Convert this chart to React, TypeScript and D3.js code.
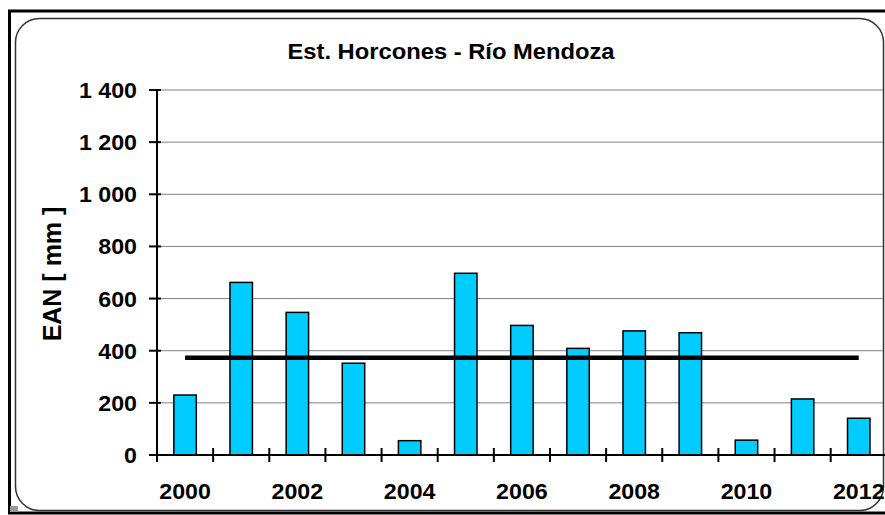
import * as d3 from "d3"

const years = ["2000", "2001", "2002", "2003", "2004", "2005", "2006", "2007", "2008", "2009", "2010", "2011", "2012"]
const ean = [230, 662, 547, 352, 55, 697, 497, 409, 476, 469, 57, 215, 141]
const meanEan = 373
const yTicks = [0, 200, 400, 600, 800, 1000, 1200, 1400]
const xLabelYears = ["2000", "2002", "2004", "2006", "2008", "2010", "2012"]

const W = 885
const H = 515
const FONT = "'Liberation Sans', Arial, sans-serif"

// format with a space as thousands separator
const fmt = (v: number) => d3.format(",")(v).replace(/,/g, " ")

export default function App() {
  const left = 157
  const step = 56.14
  const x = d3
    .scaleBand<string>()
    .domain(years)
    .range([left, left + step * years.length])
    .padding(0)
  const y = d3.scaleLinear().domain([0, 1400]).range([455, 90])

  const bw = x.bandwidth() * 0.4
  const cx = (yr: string) => (x(yr) ?? 0) + x.bandwidth() / 2

  return (
    <svg
      width={W}
      height={H}
      style={{ position: "absolute", left: 0, top: 0, background: "#fff" }}
      fontFamily={FONT}
      fontWeight="bold"
    >
      {/* outer frame */}
      <rect x={9.5} y={11} width={890} height={502} fill="none" stroke="#000" strokeWidth={3} />
      {/* inner rounded frame */}
      <rect x={15.5} y={18.5} width={868} height={492} rx={24} ry={24} fill="#fff" stroke="#333" strokeWidth={1.5} />
      <rect x={10} y={506} width={8} height={6} fill="#999" />

      {/* title */}
      <text transform={`translate(451,59) scale(1.08,1)`} textAnchor="middle" fontSize={22} fill="#000">
        Est. Horcones - Río Mendoza
      </text>

      {/* gridlines */}
      {yTicks.slice(1).map((t) => (
        <line key={"g" + t} x1={left} x2={883} y1={y(t)} y2={y(t)} stroke="#808080" strokeWidth={1} />
      ))}

      {/* bars */}
      {years.map((yr, i) => (
        <rect
          key={yr}
          x={cx(yr) - bw / 2}
          y={y(ean[i])}
          width={bw}
          height={y(0) - y(ean[i])}
          fill="#00CCFF"
          stroke="#000"
          strokeWidth={1.5}
        />
      ))}

      {/* mean line */}
      <line
        x1={cx(years[0])}
        x2={cx(years[years.length - 1])}
        y1={y(meanEan)}
        y2={y(meanEan)}
        stroke="#000"
        strokeWidth={4.5}
      />

      {/* y axis */}
      <line x1={left} x2={left} y1={y(1400)} y2={y(0)} stroke="#000" strokeWidth={2} />
      {yTicks.map((t) => (
        <g key={"y" + t}>
          <line x1={149} x2={161} y1={y(t)} y2={y(t)} stroke="#000" strokeWidth={2} />
          <text transform={`translate(137,${y(t) + 8}) scale(1.08,1)`} textAnchor="end" fontSize={21.5} fill="#000">
            {fmt(t)}
          </text>
        </g>
      ))}

      {/* x axis */}
      <line x1={left} x2={W} y1={y(0)} y2={y(0)} stroke="#000" strokeWidth={2} />
      {years.map((yr) => (
        <line key={"xt" + yr} x1={x(yr)} x2={x(yr)} y1={448} y2={462} stroke="#000" strokeWidth={2} />
      ))}
      {xLabelYears.map((yr) => (
        <text key={"xl" + yr} transform={`translate(${cx(yr)},499) scale(1.08,1)`} textAnchor="middle" fontSize={21.5} fill="#000">
          {yr}
        </text>
      ))}

      {/* y axis title */}
      <text transform={`translate(61,274) rotate(-90)`} textAnchor="middle" fontSize={25} fill="#000">
        EAN [ mm ]
      </text>
    </svg>
  )
}
